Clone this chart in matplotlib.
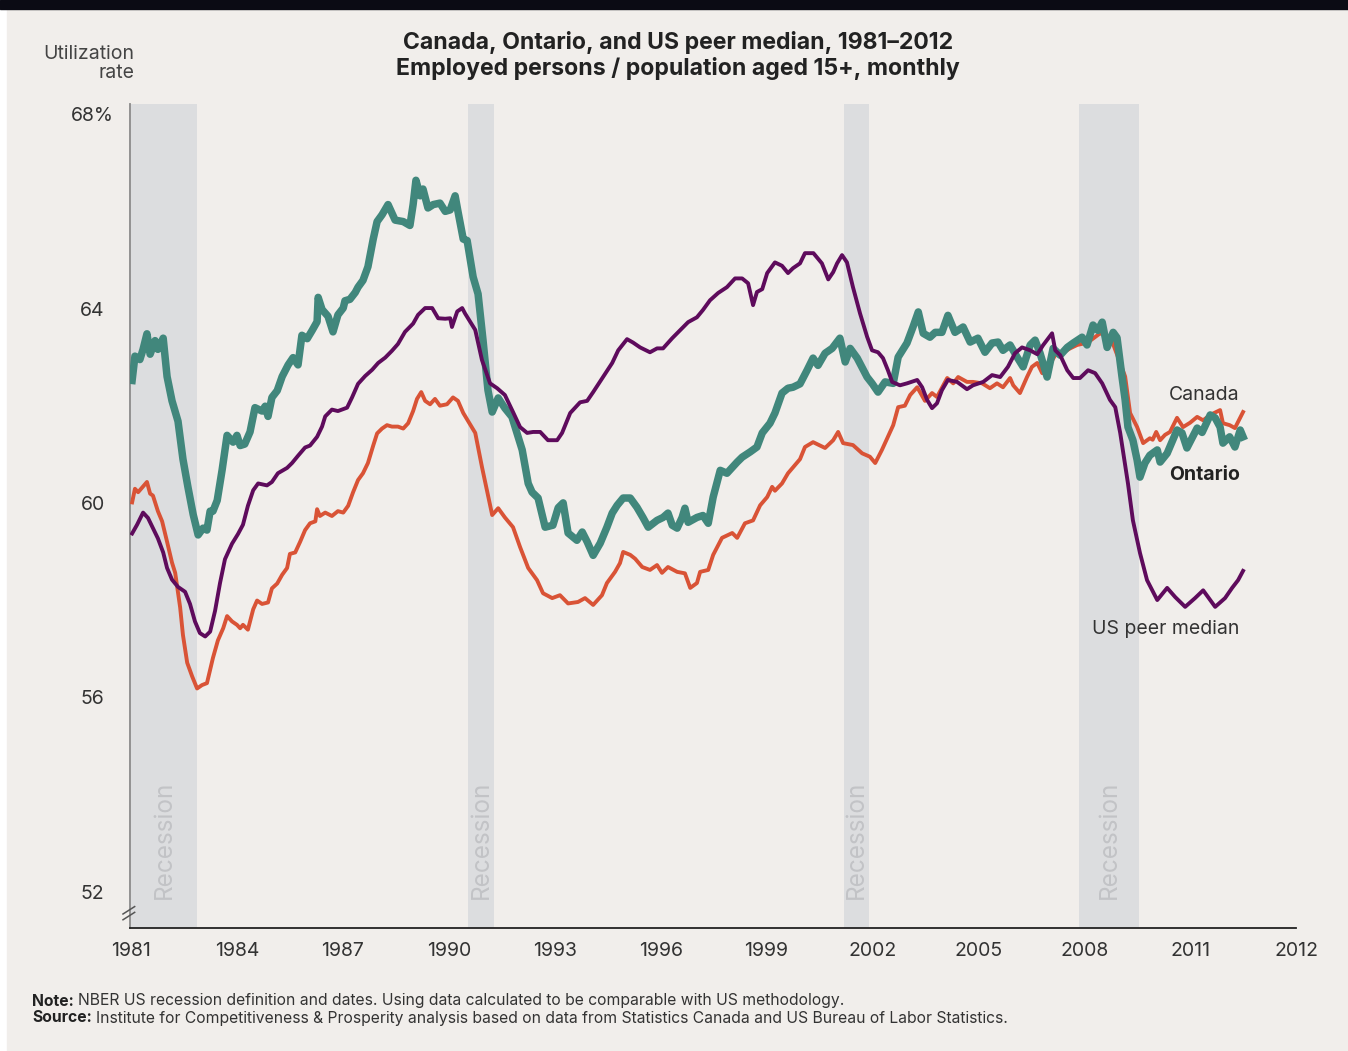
import matplotlib
matplotlib.use("Agg")
import matplotlib.pyplot as plt
from matplotlib.patches import Rectangle

plt.rcParams['font.family'] = ['Inter', 'DejaVu Sans']

# --- data (decimal years, % employed) ---
ontario_years = [1981.03, 1981.11, 1981.25, 1981.34, 1981.45, 1981.54, 1981.68, 1981.76, 1981.91, 1982.02,
                 1982.16, 1982.33, 1982.47, 1982.61, 1982.76, 1982.90, 1983.04, 1983.15, 1983.24, 1983.32,
                 1983.44, 1983.58, 1983.72, 1983.89, 1984.00, 1984.09, 1984.22, 1984.37, 1984.51, 1984.71,
                 1984.80, 1984.88, 1984.99, 1985.14, 1985.28, 1985.45, 1985.59, 1985.73, 1985.84, 1985.99,
                 1986.13, 1986.27, 1986.30, 1986.41, 1986.58, 1986.72, 1986.86, 1987.01, 1987.06, 1987.20,
                 1987.35, 1987.43, 1987.57, 1987.71, 1987.86, 1987.97, 1988.11, 1988.28, 1988.48, 1988.71,
                 1988.90, 1988.99, 1989.07, 1989.19, 1989.27, 1989.41, 1989.56, 1989.75, 1989.90, 1990.04,
                 1990.18, 1990.26, 1990.41, 1990.52, 1990.69, 1990.83, 1990.97, 1991.11, 1991.23, 1991.40,
                 1991.59, 1991.79, 1991.88, 1992.08, 1992.25, 1992.36, 1992.53, 1992.73, 1992.95, 1993.10,
                 1993.24, 1993.38, 1993.63, 1993.78, 1993.92, 1994.09, 1994.29, 1994.48, 1994.63, 1994.77,
                 1994.94, 1995.14, 1995.33, 1995.50, 1995.65, 1995.90, 1996.07, 1996.21, 1996.33, 1996.47,
                 1996.61, 1996.69, 1996.78, 1997.03, 1997.20, 1997.35, 1997.49, 1997.69, 1997.88, 1998.17,
                 1998.31, 1998.54, 1998.73, 1998.88, 1999.10, 1999.24, 1999.44, 1999.61, 1999.75, 1999.95,
                 2000.15, 2000.32, 2000.46, 2000.66, 2000.86, 2001.08, 2001.23, 2001.37, 2001.57, 2001.85,
                 2001.99, 2002.16, 2002.36, 2002.59, 2002.73, 2002.98, 2003.15, 2003.30, 2003.44, 2003.63,
                 2003.78, 2003.97, 2004.14, 2004.34, 2004.57, 2004.77, 2004.99, 2005.19, 2005.39, 2005.56,
                 2005.70, 2005.90, 2006.10, 2006.27, 2006.47, 2006.61, 2006.75, 2006.95, 2007.12, 2007.32,
                 2007.52, 2007.69, 2007.94, 2008.08, 2008.25, 2008.39, 2008.51, 2008.65, 2008.82, 2008.93,
                 2009.07, 2009.16, 2009.24, 2009.38, 2009.50, 2009.58, 2009.72, 2009.86, 2010.07, 2010.15,
                 2010.35, 2010.63, 2010.77, 2010.91, 2011.20, 2011.34, 2011.57, 2011.71, 2011.85, 2011.93,
                 2012.12, 2012.27, 2012.42, 2012.50]
ontario_rate = [62.52, 63.02, 62.95, 63.16, 63.48, 63.06, 63.34, 63.16, 63.39, 62.60,
                62.10, 61.68, 60.90, 60.33, 59.76, 59.34, 59.48, 59.44, 59.83, 59.83,
                60.05, 60.68, 61.39, 61.25, 61.39, 61.18, 61.21, 61.46, 61.96, 61.89,
                61.99, 61.78, 62.17, 62.31, 62.60, 62.84, 62.99, 62.84, 63.45, 63.38,
                63.55, 63.73, 64.23, 63.98, 63.84, 63.52, 63.87, 64.01, 64.16, 64.19,
                64.33, 64.44, 64.58, 64.86, 65.43, 65.79, 65.93, 66.14, 65.82, 65.79,
                65.71, 66.14, 66.64, 66.32, 66.46, 66.07, 66.14, 66.17, 66.00, 66.03,
                66.32, 66.00, 65.43, 65.40, 64.65, 64.30, 63.35, 62.32, 61.87, 62.16,
                61.95, 61.77, 61.56, 61.09, 60.40, 60.22, 60.10, 59.50, 59.54, 59.90,
                60.00, 59.38, 59.23, 59.40, 59.20, 58.92, 59.17, 59.50, 59.79, 59.95,
                60.10, 60.10, 59.91, 59.70, 59.50, 59.64, 59.70, 59.79, 59.54, 59.48,
                59.70, 59.89, 59.60, 59.70, 59.74, 59.58, 60.12, 60.67, 60.61, 60.84,
                60.94, 61.05, 61.15, 61.44, 61.64, 61.85, 62.26, 62.36, 62.38, 62.45,
                62.73, 62.98, 62.83, 63.08, 63.18, 63.39, 62.90, 63.18, 62.98, 62.59,
                62.46, 62.28, 62.49, 62.46, 63.00, 63.29, 63.62, 63.93, 63.49, 63.41,
                63.51, 63.51, 63.86, 63.51, 63.62, 63.31, 63.39, 63.10, 63.29, 63.31,
                63.14, 63.25, 63.00, 62.80, 63.25, 63.35, 63.08, 62.59, 63.18, 63.04,
                63.20, 63.29, 63.41, 63.25, 63.66, 63.55, 63.72, 63.20, 63.51, 63.40,
                62.60, 62.12, 61.56, 61.29, 60.88, 60.53, 60.82, 60.98, 61.09, 60.84,
                61.02, 61.50, 61.44, 61.13, 61.54, 61.45, 61.81, 61.75, 61.56, 61.23,
                61.36, 61.15, 61.50, 61.36]

canada_years = [1981.03, 1981.11, 1981.20, 1981.45, 1981.54, 1981.62, 1981.76, 1981.88, 1982.02, 1982.16,
                1982.25, 1982.39, 1982.47, 1982.59, 1982.73, 1982.87, 1983.01, 1983.15, 1983.24, 1983.32,
                1983.46, 1983.61, 1983.72, 1983.86, 1984.00, 1984.09, 1984.17, 1984.31, 1984.46, 1984.57,
                1984.71, 1984.88, 1984.99, 1985.14, 1985.28, 1985.42, 1985.50, 1985.65, 1985.79, 1985.93,
                1986.07, 1986.22, 1986.27, 1986.35, 1986.50, 1986.69, 1986.86, 1987.01, 1987.15, 1987.29,
                1987.43, 1987.57, 1987.71, 1987.86, 1987.97, 1988.11, 1988.25, 1988.39, 1988.56, 1988.71,
                1988.85, 1988.99, 1989.10, 1989.22, 1989.33, 1989.47, 1989.61, 1989.75, 1989.95, 1990.12,
                1990.26, 1990.41, 1990.75, 1990.94, 1991.23, 1991.40, 1991.59, 1991.82, 1992.02, 1992.25,
                1992.50, 1992.67, 1992.93, 1993.15, 1993.38, 1993.66, 1993.86, 1994.09, 1994.34, 1994.48,
                1994.71, 1994.85, 1994.94, 1995.14, 1995.28, 1995.48, 1995.70, 1995.90, 1996.04, 1996.21,
                1996.47, 1996.69, 1996.84, 1997.03, 1997.12, 1997.35, 1997.49, 1997.74, 1998.03, 1998.17,
                1998.39, 1998.62, 1998.82, 1999.02, 1999.16, 1999.24, 1999.44, 1999.61, 1999.95, 2000.09,
                2000.32, 2000.66, 2000.89, 2001.03, 2001.17, 2001.45, 2001.71, 2001.93, 2002.08, 2002.27,
                2002.44, 2002.59, 2002.73, 2002.92, 2003.07, 2003.27, 2003.49, 2003.69, 2003.83, 2004.12,
                2004.29, 2004.43, 2004.68, 2004.85, 2005.11, 2005.33, 2005.53, 2005.70, 2005.90, 2005.99,
                2006.18, 2006.38, 2006.52, 2006.67, 2006.81, 2006.98, 2007.18, 2007.37, 2007.60, 2007.80,
                2008.10, 2008.45, 2008.75, 2009.02, 2009.16, 2009.30, 2009.50, 2009.67, 2009.86, 2009.94,
                2010.04, 2010.15, 2010.29, 2010.43, 2010.63, 2010.80, 2011.00, 2011.20, 2011.37, 2011.57,
                2011.85, 2011.93, 2012.12, 2012.27, 2012.50]
canada_rate = [60.01, 60.29, 60.22, 60.43, 60.19, 60.15, 59.83, 59.62, 59.20, 58.77,
               58.56, 57.85, 57.28, 56.71, 56.43, 56.18, 56.25, 56.29, 56.57, 56.81,
               57.17, 57.42, 57.67, 57.56, 57.49, 57.42, 57.49, 57.39, 57.81, 57.99,
               57.92, 57.95, 58.24, 58.34, 58.52, 58.66, 58.95, 58.98, 59.20, 59.44,
               59.58, 59.62, 59.87, 59.73, 59.80, 59.73, 59.83, 59.80, 59.94, 60.22,
               60.47, 60.61, 60.82, 61.18, 61.43, 61.53, 61.60, 61.57, 61.57, 61.53,
               61.64, 61.89, 62.14, 62.28, 62.10, 62.03, 62.14, 62.00, 62.03, 62.17,
               62.10, 61.85, 61.44, 60.74, 59.75, 59.89, 59.70, 59.50, 59.09, 58.66,
               58.41, 58.14, 58.04, 58.10, 57.93, 57.96, 58.04, 57.90, 58.10, 58.35,
               58.58, 58.76, 58.99, 58.93, 58.85, 58.68, 58.62, 58.72, 58.56, 58.68,
               58.58, 58.55, 58.25, 58.35, 58.58, 58.62, 58.93, 59.28, 59.38, 59.28,
               59.58, 59.64, 59.95, 60.12, 60.33, 60.25, 60.40, 60.61, 60.90, 61.15,
               61.25, 61.13, 61.29, 61.46, 61.23, 61.19, 61.02, 60.95, 60.82, 61.09,
               61.36, 61.60, 61.97, 62.00, 62.22, 62.38, 62.10, 62.26, 62.18, 62.57,
               62.46, 62.59, 62.49, 62.49, 62.46, 62.36, 62.46, 62.38, 62.57, 62.42,
               62.26, 62.59, 62.80, 62.88, 62.67, 62.80, 63.04, 63.08, 63.18, 63.25,
               63.30, 63.49, 63.40, 62.88, 62.60, 61.85, 61.56, 61.23, 61.33, 61.30,
               61.46, 61.29, 61.40, 61.46, 61.75, 61.56, 61.65, 61.77, 61.70, 61.81,
               61.91, 61.64, 61.60, 61.54, 61.87]

us_years = [1981.03, 1981.17, 1981.34, 1981.48, 1981.62, 1981.76, 1981.91, 1982.02, 1982.16, 1982.33,
            1982.53, 1982.67, 1982.81, 1982.95, 1983.10, 1983.24, 1983.38, 1983.52, 1983.66, 1983.86,
            1984.03, 1984.17, 1984.31, 1984.46, 1984.60, 1984.85, 1984.99, 1985.16, 1985.42, 1985.56,
            1985.73, 1985.93, 1986.07, 1986.27, 1986.41, 1986.50, 1986.69, 1986.86, 1987.12, 1987.26,
            1987.43, 1987.63, 1987.83, 1988.00, 1988.20, 1988.39, 1988.56, 1988.76, 1988.99, 1989.13,
            1989.33, 1989.53, 1989.70, 1989.90, 1990.04, 1990.09, 1990.24, 1990.38, 1990.46, 1990.75,
            1990.94, 1991.17, 1991.37, 1991.59, 1991.82, 1992.02, 1992.22, 1992.39, 1992.59, 1992.81,
            1993.07, 1993.21, 1993.44, 1993.72, 1993.92, 1994.09, 1994.37, 1994.63, 1994.80, 1995.05,
            1995.22, 1995.42, 1995.70, 1995.90, 1996.07, 1996.33, 1996.56, 1996.78, 1997.03, 1997.20,
            1997.40, 1997.63, 1997.88, 1998.11, 1998.31, 1998.48, 1998.62, 1998.73, 1998.88, 1999.02,
            1999.24, 1999.44, 1999.61, 1999.75, 1999.95, 2000.09, 2000.33, 2000.57, 2000.75, 2000.89,
            2001.00, 2001.14, 2001.28, 2001.45, 2001.65, 2001.85, 2001.99, 2002.16, 2002.30, 2002.44,
            2002.56, 2002.78, 2002.98, 2003.27, 2003.41, 2003.55, 2003.69, 2003.83, 2003.97, 2004.14,
            2004.40, 2004.68, 2004.85, 2005.14, 2005.39, 2005.62, 2005.84, 2006.04, 2006.24, 2006.47,
            2006.67, 2006.84, 2007.09, 2007.18, 2007.32, 2007.52, 2007.69, 2007.88, 2008.11, 2008.31,
            2008.51, 2008.73, 2008.88, 2009.02, 2009.24, 2009.38, 2009.58, 2009.78, 2010.07, 2010.35,
            2010.58, 2010.86, 2011.14, 2011.37, 2011.71, 2011.99, 2012.19, 2012.36, 2012.50]
us_rate = [59.37, 59.55, 59.80, 59.69, 59.48, 59.27, 58.98, 58.66, 58.42, 58.27,
           58.17, 57.92, 57.56, 57.32, 57.25, 57.35, 57.78, 58.35, 58.84, 59.16,
           59.36, 59.55, 59.94, 60.26, 60.40, 60.36, 60.43, 60.61, 60.72, 60.82,
           60.97, 61.14, 61.18, 61.36, 61.57, 61.78, 61.92, 61.89, 61.96, 62.17,
           62.45, 62.61, 62.74, 62.88, 62.99, 63.13, 63.27, 63.52, 63.69, 63.87,
           64.01, 64.01, 63.80, 63.79, 63.80, 63.62, 63.94, 64.01, 63.90, 63.56,
           62.94, 62.46, 62.36, 62.22, 61.87, 61.56, 61.44, 61.46, 61.46, 61.29,
           61.29, 61.44, 61.85, 62.07, 62.10, 62.28, 62.59, 62.88, 63.14, 63.37,
           63.30, 63.20, 63.10, 63.18, 63.18, 63.39, 63.56, 63.72, 63.82, 63.97,
           64.17, 64.32, 64.44, 64.62, 64.62, 64.52, 64.07, 64.34, 64.40, 64.73,
           64.95, 64.88, 64.73, 64.83, 64.93, 65.14, 65.14, 64.93, 64.60, 64.75,
           64.93, 65.10, 64.95, 64.44, 63.90, 63.42, 63.14, 63.10, 62.98, 62.73,
           62.49, 62.42, 62.46, 62.53, 62.38, 62.12, 61.95, 62.05, 62.32, 62.53,
           62.49, 62.34, 62.42, 62.49, 62.63, 62.59, 62.80, 63.08, 63.20, 63.14,
           63.06, 63.25, 63.49, 63.14, 63.04, 62.73, 62.57, 62.57, 62.73, 62.67,
           62.46, 62.12, 61.97, 61.44, 60.40, 59.64, 58.97, 58.41, 58.00, 58.25,
           58.06, 57.86, 58.04, 58.20, 57.86, 58.04, 58.25, 58.41, 58.60]

recessions = [(1981.0, 1982.87), (1990.55, 1991.27), (2001.2, 2001.9), (2007.85, 2009.55)]

x_ticks = [1981, 1984, 1987, 1990, 1993, 1996, 1999, 2002, 2005, 2008, 2011, 2014]
x_labels = ['1981', '1984', '1987', '1990', '1993', '1996', '1999', '2002', '2005', '2008', '2011', '2012']
y_ticks = [52, 56, 60, 64, 68]
y_labels = ['52', '56', '60', '64', '68%']

bg = '#f1eeeb'
teal = '#41877c'
orange = '#d95336'
purple = '#5e0b5c'
txt = '#333333'

fig = plt.figure(figsize=(13.48, 10.51), dpi=100)
fig.patch.set_facecolor('white')
# page background and black strip along the top
fig.add_artist(Rectangle((7 / 1348, 0), 1, 1 - 9 / 1051, transform=fig.transFigure, color=bg, zorder=-10))
fig.add_artist(Rectangle((0, 1 - 9 / 1051), 1, 9 / 1051, transform=fig.transFigure, color='#0b0b14', zorder=-10))

ax = fig.add_axes([130 / 1348, 1 - 928 / 1051, 1166 / 1348, 824 / 1051])
ax.set_facecolor(bg)
ax.patch.set_alpha(0)
ax.set_xlim(1980.97, 2014.0)
ax.set_ylim(51.25, 68.21)

for start, end in recessions:
    ax.axvspan(start, end, color='#dcdddf', lw=0, zorder=0)
    ax.text((start + end) / 2, 51.85, 'Recession', rotation=90, ha='center', va='bottom',
            fontsize=17.5, color='#c2c3c6', zorder=1)

ax.plot(canada_years, canada_rate, color=orange, lw=2.8, solid_joinstyle='round', zorder=3)
ax.plot(ontario_years, ontario_rate, color=teal, lw=5.4, solid_joinstyle='round', zorder=4)
ax.plot(us_years, us_rate, color=purple, lw=2.8, solid_joinstyle='round', zorder=5)

ax.text(2011.4, 62.22, 'Canada', ha='center', va='center', fontsize=14, color=txt)
ax.text(2011.4, 60.57, 'Ontario', ha='center', va='center', fontsize=14, color='#222222', fontweight='bold')
ax.text(2010.32, 57.40, 'US peer median', ha='center', va='center', fontsize=14, color=txt)

ax.set_xticks(x_ticks)
ax.set_xticklabels(x_labels)
ax.set_yticks(y_ticks)
ax.set_yticklabels(y_labels)
ax.tick_params(axis='both', length=0, labelsize=14, labelcolor=txt)
ax.tick_params(axis='x', pad=10)
ax.tick_params(axis='y', pad=27)
for lab in ax.get_yticklabels():
    lab.set_ha('center')

for side in ['top', 'right']:
    ax.spines[side].set_visible(False)
ax.spines['left'].set_color('#8a8a8a')
ax.spines['left'].set_linewidth(1.3)
ax.spines['bottom'].set_color('#222222')
ax.spines['bottom'].set_linewidth(1.3)

# axis break marks on the y axis
for dy in (0.0, 0.007):
    ax.plot([-0.006, 0.004], [0.010 + dy, 0.019 + dy], transform=ax.transAxes,
            color='#555555', lw=1.1, clip_on=False, zorder=6)

fig.text(134 / 1348, 1 - 54 / 1051, 'Utilization', ha='right', va='center', fontsize=14, color='#444444')
fig.text(134 / 1348, 1 - 73 / 1051, 'rate', ha='right', va='center', fontsize=14, color='#444444')

fig.text(678 / 1348, 1 - 42 / 1051, 'Canada, Ontario, and US peer median, 1981\u20132012',
         ha='center', va='center', fontsize=16.6, fontweight='bold', color='#222222')
fig.text(678 / 1348, 1 - 69 / 1051, 'Employed persons / population aged 15+, monthly',
         ha='center', va='center', fontsize=16.6, fontweight='bold', color='#222222')

notes = [('Note:', 'NBER US recession definition and dates. Using data calculated to be comparable with US methodology.', 1001),
         ('Source:', 'Institute for Competitiveness & Prosperity analysis based on data from Statistics Canada and US Bureau of Labor Statistics.', 1018)]
for head, body, ypix in notes:
    h = fig.text(32 / 1348, 1 - ypix / 1051, head, ha='left', va='center', fontsize=11.3,
                 fontweight='bold', color='#222222')
    ax.annotate(body, xy=(1, 0.5), xycoords=h, xytext=(3, 0), textcoords='offset points',
                ha='left', va='center', fontsize=11.3, color='#333333', annotation_clip=False)

fig.savefig('out.png', dpi=100, facecolor=fig.get_facecolor())
